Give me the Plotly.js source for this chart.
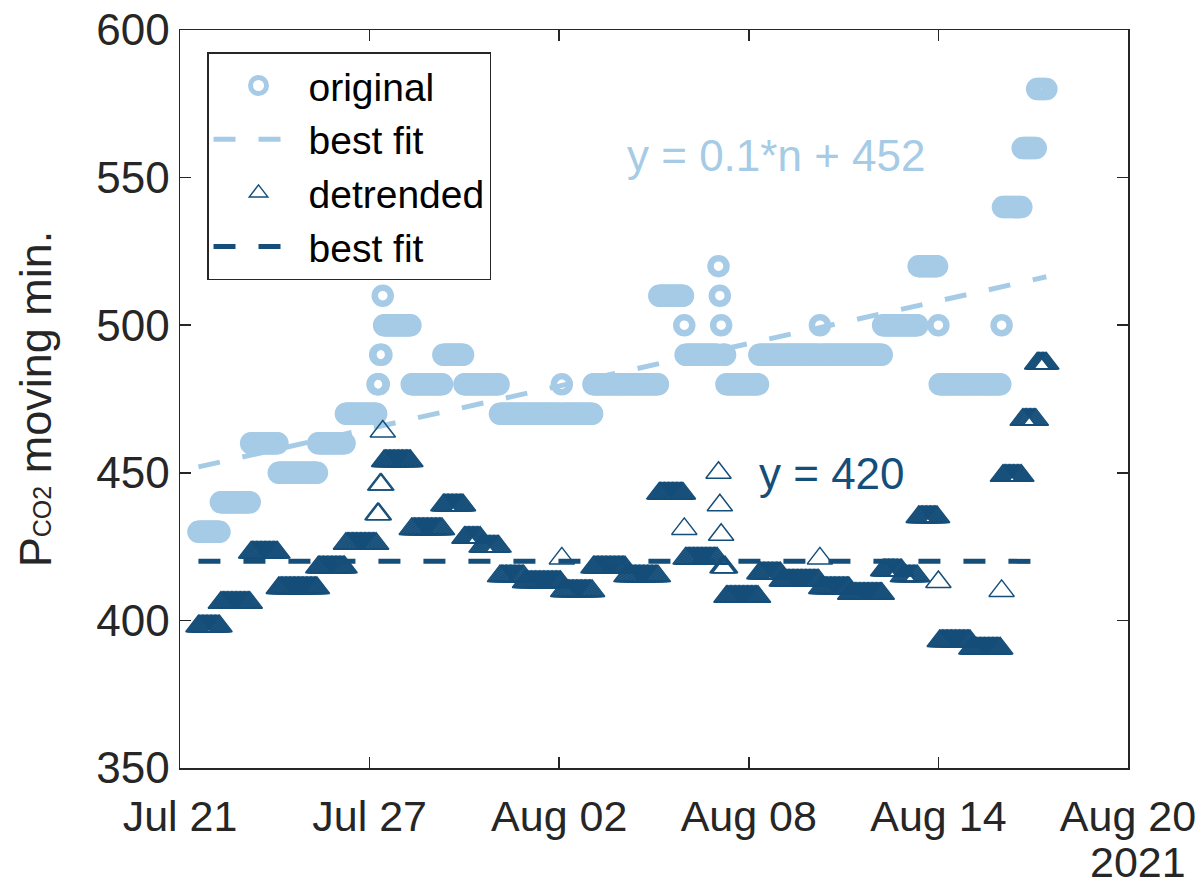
<!DOCTYPE html>
<html>
<head>
<meta charset="utf-8">
<script src="https://cdn.plot.ly/plotly-3.0.1.min.js"></script>
<style>html,body{margin:0;padding:0;background:#fff;}#chart{width:1199px;height:890px;}</style>
</head>
<body>
<div id="chart"></div>
<script>
// ---- original series: runs of constant moving-min values (hourly samples) ----
const origStart = ['2021-07-21 14:00','2021-07-22 07:00','2021-07-23 06:00','2021-07-24 03:00','2021-07-25 09:00','2021-07-26 06:00','2021-07-27 06:00','2021-07-27 08:00','2021-07-27 10:00','2021-07-27 11:00','2021-07-28 08:00','2021-07-29 08:00','2021-07-30 00:00','2021-07-31 03:00','2021-08-02 02:00','2021-08-02 03:00','2021-08-03 02:00','2021-08-05 04:00','2021-08-05 23:00','2021-08-06 00:00','2021-08-07 01:00','2021-08-07 02:00','2021-08-07 03:00','2021-08-07 04:00','2021-08-07 07:00','2021-08-08 08:00','2021-08-10 06:00','2021-08-10 07:00','2021-08-12 06:00','2021-08-13 09:00','2021-08-14 00:00','2021-08-14 01:00','2021-08-16 00:00','2021-08-16 01:00','2021-08-16 16:00','2021-08-17 03:00'];
const origEnd   = ['2021-07-22 06:00','2021-07-23 05:00','2021-07-24 02:00','2021-07-25 08:00','2021-07-26 05:00','2021-07-27 05:00','2021-07-27 07:00','2021-07-27 09:00','2021-07-27 10:00','2021-07-28 07:00','2021-07-29 07:00','2021-07-29 23:00','2021-07-31 02:00','2021-08-02 01:00','2021-08-02 02:00','2021-08-03 01:00','2021-08-05 03:00','2021-08-05 22:00','2021-08-05 23:00','2021-08-07 00:00','2021-08-07 01:00','2021-08-07 02:00','2021-08-07 03:00','2021-08-07 06:00','2021-08-08 07:00','2021-08-10 05:00','2021-08-10 06:00','2021-08-12 05:00','2021-08-13 08:00','2021-08-13 23:00','2021-08-14 00:00','2021-08-15 23:00','2021-08-16 00:00','2021-08-16 15:00','2021-08-17 02:00','2021-08-17 10:00'];
const origValue = [430,440,460,450,460,470,480,490,510,500,480,490,480,470,480,470,480,510,500,490,520,510,500,490,480,490,500,490,500,520,500,480,500,540,560,580];

// ---- detrended series: runs ----
const detrStart = ['2021-07-21 14:00','2021-07-22 07:00','2021-07-23 06:00','2021-07-24 03:00','2021-07-25 09:00','2021-07-26 06:00','2021-07-27 06:00','2021-07-27 08:00','2021-07-27 10:00','2021-07-27 11:00','2021-07-28 08:00','2021-07-29 08:00','2021-07-30 00:00','2021-07-30 13:00','2021-07-31 03:00','2021-07-31 22:00','2021-08-02 02:00','2021-08-02 03:00','2021-08-03 02:00','2021-08-04 03:00','2021-08-05 04:00','2021-08-05 23:00','2021-08-06 00:00','2021-08-07 01:00','2021-08-07 02:00','2021-08-07 03:00','2021-08-07 04:00','2021-08-07 07:00','2021-08-08 08:00','2021-08-09 01:00','2021-08-10 06:00','2021-08-10 07:00','2021-08-11 05:00','2021-08-12 06:00','2021-08-12 21:00','2021-08-13 09:00','2021-08-14 00:00','2021-08-14 01:00','2021-08-15 01:00','2021-08-16 00:00','2021-08-16 01:00','2021-08-16 16:00','2021-08-17 03:00'];
const detrEnd   = ['2021-07-22 06:00','2021-07-23 05:00','2021-07-24 02:00','2021-07-25 08:00','2021-07-26 05:00','2021-07-27 05:00','2021-07-27 07:00','2021-07-27 09:00','2021-07-27 10:00','2021-07-28 07:00','2021-07-29 07:00','2021-07-29 23:00','2021-07-30 12:00','2021-07-31 02:00','2021-07-31 21:00','2021-08-02 01:00','2021-08-02 02:00','2021-08-03 01:00','2021-08-04 02:00','2021-08-05 03:00','2021-08-05 22:00','2021-08-05 23:00','2021-08-07 00:00','2021-08-07 01:00','2021-08-07 02:00','2021-08-07 03:00','2021-08-07 06:00','2021-08-08 07:00','2021-08-09 00:00','2021-08-10 05:00','2021-08-10 06:00','2021-08-11 04:00','2021-08-12 05:00','2021-08-12 20:00','2021-08-13 08:00','2021-08-13 23:00','2021-08-14 00:00','2021-08-15 00:00','2021-08-15 23:00','2021-08-16 00:00','2021-08-16 15:00','2021-08-17 02:00','2021-08-17 10:00'];
const detrValue = [398,406,423,411,418,426,436,446,464,454,431,439,428,425,415,413,421,410,418,415,443,431,421,450,439,429,418,408,416,413.5,421,411,409,417,415,435,413,393,390.5,410,449,468,487];

// ---- best-fit lines ----
const fitX = ['2021-07-21 14:00','2021-08-17 10:00'];
const fitOrigY = [452, 516.4];
const fitDetrY = [420, 420];

// ---- axis ticks ----
const xTickVals = ['2021-07-21','2021-07-27','2021-08-02','2021-08-08','2021-08-14','2021-08-20'];
const xTickText = ['Jul 21','Jul 27','Aug 02','Aug 08','Aug 14','Aug 20'];
const yTickVals = [350,400,450,500,550,600];

const LIGHT = '#a6cbe6';
const DARK = '#154e79';
const AX = '#262626';

function parseT(s){
  const [d,t] = s.split(' ');
  const [Y,M,D] = d.split('-').map(Number);
  const [h,m] = t.split(':').map(Number);
  return Date.UTC(Y,M-1,D,h,m);
}
function fmt(ms){
  const d = new Date(ms);
  const p = n => String(n).padStart(2,'0');
  return d.getUTCFullYear()+'-'+p(d.getUTCMonth()+1)+'-'+p(d.getUTCDate())+' '+p(d.getUTCHours())+':'+p(d.getUTCMinutes());
}
// expand each run into its hourly samples
function expand(starts, ends, vals){
  const xs=[], ys=[];
  for(let i=0;i<starts.length;i++){
    for(let t=parseT(starts[i]); t<=parseT(ends[i]); t+=3600000){
      xs.push(fmt(t)); ys.push(vals[i]);
    }
  }
  return {xs, ys};
}
const O = expand(origStart, origEnd, origValue);
const Dt = expand(detrStart, detrEnd, detrValue);

const FONT = 'Arial, "Liberation Sans", sans-serif';

const traces = [
  {x:O.xs, y:O.ys, type:'scatter', mode:'markers', name:'original', legendgroup:'a',
   marker:{symbol:'circle-open', size:16, color:LIGHT, line:{width:6.5, color:LIGHT}}},
  {x:fitX, y:fitOrigY, type:'scatter', mode:'lines', name:'best fit', legendgroup:'b',
   line:{color:LIGHT, width:5, dash:'22px,23px'}},
  {x:Dt.xs, y:Dt.ys, type:'scatter', mode:'markers', name:'detrended', legendgroup:'c',
   marker:{symbol:'triangle-up-open', size:22, color:DARK, line:{width:1.5, color:DARK}}},
  {x:fitX, y:fitDetrY, type:'scatter', mode:'lines', name:'best fit', legendgroup:'d',
   line:{color:DARK, width:5, dash:'22px,23px'}}
];

const layout = {
  width:1199, height:890,
  margin:{l:180, r:71, t:30, b:122, pad:0},
  paper_bgcolor:'#fff', plot_bgcolor:'#fff',
  font:{family:FONT, color:AX, size:40},
  showlegend:true,
  legend:{x:0.0285, y:0.97, xanchor:'left', yanchor:'top', bgcolor:'#fff',
          bordercolor:AX, borderwidth:1.5, font:{size:39, color:'#000'},
          traceorder:'grouped', tracegroupgap:0, itemwidth:90},
  xaxis:{type:'date', range:['2021-07-21','2021-08-20'], tickmode:'array',
         tickvals:xTickVals, ticktext:xTickText, ticks:'inside', ticklen:11,
         tickwidth:1.5, tickcolor:AX, showline:true, linecolor:AX, linewidth:1.5,
         mirror:'ticks', showgrid:false, zeroline:false, tickfont:{size:43, color:AX},
         ticklabelstandoff:10, automargin:false},
  yaxis:{range:[350,600], tickmode:'array', tickvals:yTickVals, ticks:'inside',
         ticklen:11, tickwidth:1.5, tickcolor:AX, showline:true, linecolor:AX,
         linewidth:1.5, mirror:'ticks', showgrid:false, zeroline:false,
         tickfont:{size:44, color:AX}, automargin:false,
         title:{text:'P<span style="font-size:25px">CO2</span> moving min.', font:{size:45, color:AX}, standoff:30}},
  annotations:[
    {xref:'paper', yref:'paper', x:0.469, y:0.8306, xanchor:'left', yanchor:'middle',
     text:'y = 0.1*n + 452', showarrow:false, font:{size:44, color:LIGHT}},
    {xref:'paper', yref:'paper', x:0.6087, y:0.3997, xanchor:'left', yanchor:'middle',
     text:'y = 420', showarrow:false, font:{size:44, color:DARK}},
    {xref:'paper', yref:'paper', x:1.0633, y:-0.1274, xanchor:'right', yanchor:'middle',
     text:'2021', showarrow:false, font:{size:43, color:AX}}
  ]
};

Plotly.newPlot('chart', traces, layout, {displayModeBar:false, staticPlot:true});
</script>
</body>
</html>
